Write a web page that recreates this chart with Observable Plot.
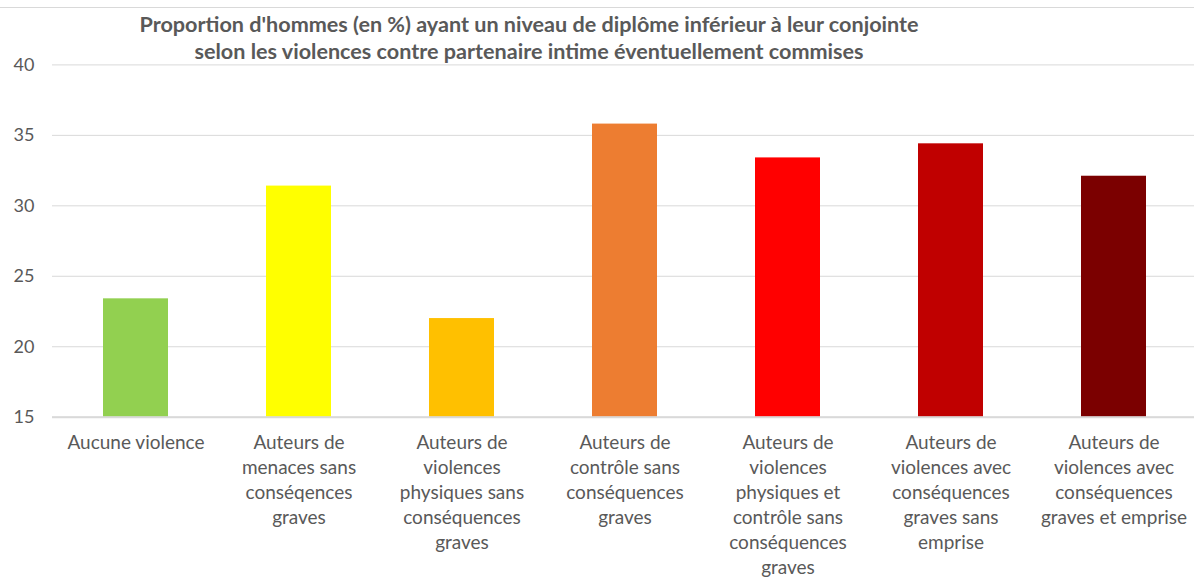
<!DOCTYPE html>
<html>
<head>
<meta charset="utf-8">
<script src="https://cdn.jsdelivr.net/npm/d3@7"></script>
<script src="https://cdn.jsdelivr.net/npm/@observablehq/plot@0.6"></script>
<style>
  html, body { margin: 0; padding: 0; background: #fff; }
  #wrap { position: relative; width: 1194px; height: 578px; overflow: hidden; font-family: Lato, "Open Sans", sans-serif; }
  #frame { position: absolute; left: 0; top: 7px; width: 1194px; border-top: 1px solid #d9d9d9; }
  #title { position: absolute; left: 0; top: 11px; width: 1058px; text-align: center; font-weight: bold; font-size: 21.6px; line-height: 27px; color: #595959; }
  #chart { position: absolute; left: 0; top: 0; }
</style>
</head>
<body>
<div id="wrap">
  <div id="frame"></div>
  <div id="chart"></div>
  <div id="title">Proportion d'hommes (en %) ayant un niveau de diplôme inférieur à leur conjointe<br>selon les violences contre partenaire intime éventuellement commises</div>
</div>
<script>
const categories = [
  "Aucune violence",
  "Auteurs de menaces sans conséqences graves",
  "Auteurs de violences physiques sans conséquences graves",
  "Auteurs de contrôle sans conséquences graves",
  "Auteurs de violences physiques et contrôle sans conséquences graves",
  "Auteurs de violences avec conséquences graves sans emprise",
  "Auteurs de violences avec conséquences graves et emprise"
];
const tickLabels = [
  "Aucune violence",
  "Auteurs de\nmenaces sans\nconséqences\ngraves",
  "Auteurs de\nviolences\nphysiques sans\nconséquences\ngraves",
  "Auteurs de\ncontrôle sans\nconséquences\ngraves",
  "Auteurs de\nviolences\nphysiques et\ncontrôle sans\nconséquences\ngraves",
  "Auteurs de\nviolences avec\nconséquences\ngraves sans\nemprise",
  "Auteurs de\nviolences avec\nconséquences\ngraves et emprise"
];
const values = [23.4, 31.4, 22.0, 35.8, 33.4, 34.4, 32.1];
const colors = ["#92d050", "#ffff00", "#ffc000", "#ed7d31", "#ff0000", "#c00000", "#7b0000"];
const yTicks = [15, 20, 25, 30, 35, 40];

const data = categories.map((c, i) => ({category: c, value: values[i], label: tickLabels[i], color: colors[i]}));
const labelOf = new Map(data.map(d => [d.category, d.label]));

const chart = Plot.plot({
  width: 1194,
  height: 578,
  marginTop: 64.4,
  marginBottom: 161.3,
  marginLeft: 52,
  marginRight: 0,
  style: {fontFamily: "Lato, 'Open Sans', sans-serif", color: "#595959", background: "transparent"},
  x: {domain: categories, range: [52.4, 1197.6], paddingInner: 0.6, paddingOuter: 0.3},
  y: {domain: [15, 40]},
  marks: [
    Plot.gridY(yTicks, {stroke: "#d9d9d9", strokeOpacity: 1, strokeWidth: 1}),
    Plot.barY(data, {x: "category", y1: 15, y2: "value", fill: "color"}),
    Plot.ruleY([15], {stroke: "#d9d9d9", strokeWidth: 2}),
    Plot.axisY(yTicks, {tickSize: 0, tickPadding: 18, fontSize: 18, fill: "#595959", label: null}),
    Plot.axisX({tickSize: 0, tickPadding: 14, fontSize: 19, lineHeight: 1.316, fill: "#595959", label: null, tickFormat: d => labelOf.get(d)})
  ]
});
document.getElementById("chart").appendChild(chart);
</script>
</body>
</html>
